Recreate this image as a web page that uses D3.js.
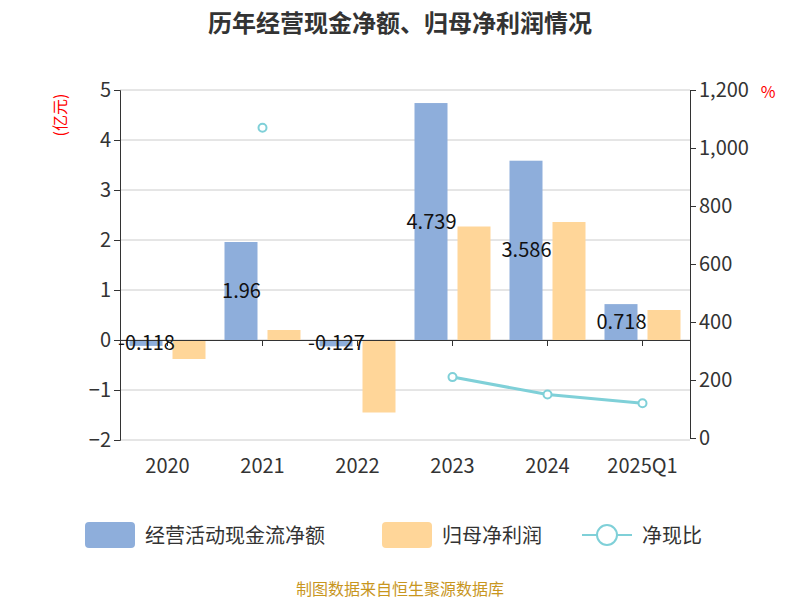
<!DOCTYPE html><html><head><meta charset="utf-8"><script src="https://cdn.jsdelivr.net/npm/d3@7"></script>
<style>body{margin:0;font-family:"Noto Sans CJK SC","Noto Sans",sans-serif}</style></head><body><svg id="c" width="800" height="600"></svg>
<script>
const categories=["2020","2021","2022","2023","2024","2025Q1"];
const cashFlow=[-0.118,1.96,-0.127,4.739,3.586,0.718];
const netProfit=[-0.38,0.2,-1.45,2.27,2.36,0.6];
const ratio=[null,1070,null,210,150,120];
const leftTicks=[-2,-1,0,1,2,3,4,5];
const rightTicks=[0,200,400,600,800,1000,1200];
const svg=d3.select("#c"),F="'Noto Sans CJK SC','Noto Sans',sans-serif";
const x=d3.scaleBand().domain(categories).range([120,690]);
const y=d3.scaleLinear().domain([-2,5]).range([440,90]);
const y2=d3.scaleLinear().domain([0,1200]).range([438,90]);
svg.append("text").attr("x",400).attr("y",32).attr("text-anchor","middle").attr("font-size",24).attr("font-weight","bold").attr("fill","#333").text("历年经营现金净额、归母净利润情况");
leftTicks.forEach(t=>svg.append("line").attr("x1",120).attr("x2",690).attr("y1",y(t)).attr("y2",y(t)).attr("stroke","#ccc"));
const la=svg.append("g").attr("transform","translate(120,0)").call(d3.axisLeft(y).tickValues(leftTicks).tickSize(6).tickFormat(d3.format("d")));
const ra=svg.append("g").attr("transform","translate(690,0)").call(d3.axisRight(y2).tickValues(rightTicks).tickSize(6).tickFormat(d3.format(",")));
[la,ra].forEach(a=>{a.selectAll("text").attr("font-size",20).attr("fill","#333").attr("font-family",F);a.selectAll("line,path").attr("stroke","#333");});
svg.append("text").attr("transform","translate(66,115) rotate(-90)").attr("text-anchor","middle").attr("font-size",16).attr("fill","red").attr("font-family",F).text("(亿元)");
svg.append("text").attr("x",768).attr("y",98).attr("text-anchor","middle").attr("font-size",16).attr("fill","red").text("%");
const bw=33;
categories.forEach((c,i)=>{
 const cx=x(c)+x.bandwidth()/2;
 const v=cashFlow[i];
 svg.append("rect").attr("x",cx-38).attr("width",bw).attr("y",y(Math.max(0,v))).attr("height",Math.abs(y(v)-y(0))).attr("fill","#8eaedb");
 const p=netProfit[i];
 svg.append("rect").attr("x",cx+5).attr("width",bw).attr("y",y(Math.max(0,p))).attr("height",Math.abs(y(p)-y(0))).attr("fill","#ffd699");
});
const xa=svg.append("g").attr("transform",`translate(0,${y(0)})`).call(d3.axisBottom(x).tickSize(6).tickFormat(""));
xa.selectAll("line,path").attr("stroke","#333");
categories.forEach((c,i)=>{
 const cx=x(c)+x.bandwidth()/2;
 svg.append("text").attr("x",cx).attr("y",473).attr("text-anchor","middle").attr("font-size",20).attr("fill","#333").attr("font-family",F).text(c);
 const v=cashFlow[i];
 svg.append("text").attr("x",cx-21).attr("y",(y(v)+y(0))/2+7).attr("text-anchor","middle").attr("font-size",20).attr("fill","#111").attr("font-family",F).text(v);
});
const pts=categories.map((c,i)=>({c,v:ratio[i]})).filter(d=>d.v!=null);
const seg=pts.filter(d=>d.c!=="2021");
svg.append("path").datum(seg).attr("d",d3.line().x(d=>x(d.c)+x.bandwidth()/2).y(d=>y2(d.v))).attr("fill","none").attr("stroke","#7fd0d8").attr("stroke-width",3);
svg.selectAll(".pt").data(pts).enter().append("circle").attr("cx",d=>x(d.c)+x.bandwidth()/2).attr("cy",d=>y2(d.v)).attr("r",4).attr("fill","#fff").attr("stroke","#7fd0d8").attr("stroke-width",2);
const lg=svg.append("g").attr("font-size",20).attr("fill","#333").attr("font-family",F);
lg.append("rect").attr("x",85).attr("y",522).attr("width",50).attr("height",26).attr("rx",4).attr("fill","#8eaedb");
lg.append("text").attr("x",145).attr("y",543).text("经营活动现金流净额");
lg.append("rect").attr("x",382).attr("y",522).attr("width",50).attr("height",26).attr("rx",4).attr("fill","#ffd699");
lg.append("text").attr("x",442).attr("y",543).text("归母净利润");
lg.append("line").attr("x1",582).attr("x2",632).attr("y1",535).attr("y2",535).attr("stroke","#7fd0d8").attr("stroke-width",2);
lg.append("circle").attr("cx",607).attr("cy",535).attr("r",10).attr("fill","#fff").attr("stroke","#7fd0d8").attr("stroke-width",2);
lg.append("text").attr("x",642).attr("y",543).text("净现比");
svg.append("text").attr("x",400).attr("y",595).attr("text-anchor","middle").attr("font-size",16).attr("fill","#c8961e").attr("font-family",F).text("制图数据来自恒生聚源数据库");
</script></body></html>
